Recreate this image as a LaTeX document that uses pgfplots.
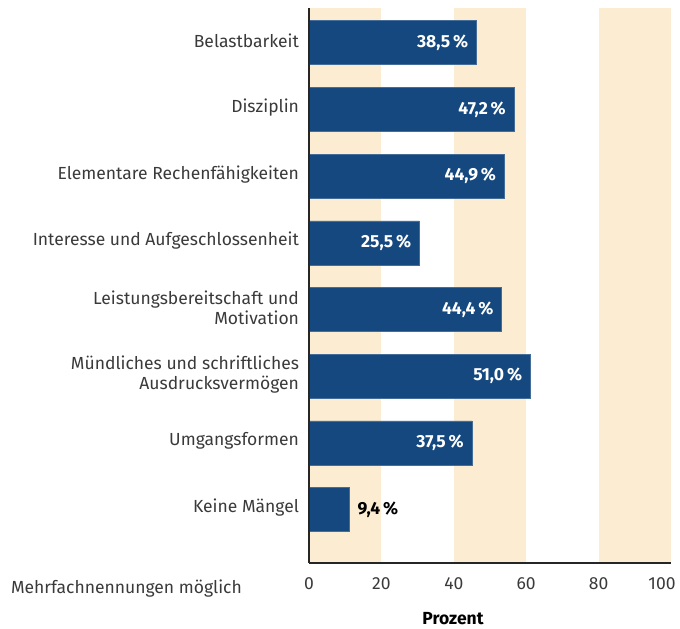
\documentclass[border=0pt]{standalone}
\usepackage{pgfplots}
\pgfplotsset{compat=1.18}
\usepackage{fontspec}
\setmainfont{Fira Sans}
\definecolor{barblue}{HTML}{15487F}
\definecolor{stripe}{HTML}{FCEDD2}
\definecolor{txt}{HTML}{3A3A3A}
\newcommand{\lblfont}{\fontsize{17.5pt}{20pt}\selectfont}
\begin{document}
\lblfont
\begin{tikzpicture}
\path[use as bounding box] (0,0) rectangle (680pt,629pt);
\begin{axis}[
  at={(309pt,66pt)}, anchor=south west,
  scale only axis, width=362pt, height=555pt,
  xmin=0, xmax=100, ymin=0.2, ymax=8.52,
  axis x line*=bottom, axis y line*=left,
  axis line style={line width=1.2pt, color=black!85, -},
  axis on top,
  xtick={0,20,40,60,80}, major tick length=0pt,
  extra x ticks={100},
  extra x tick style={xticklabel style={xshift=-9pt}},
  ytick={1,...,8},
  yticklabels={Keine Mängel, Umgangsformen, {Mündliches und schriftliches\\Ausdrucksvermögen}, {Leistungsbereitschaft und\\Motivation}, Interesse und Aufgeschlossenheit, Elementare Rechenfähigkeiten, Disziplin, Belastbarkeit},
  yticklabel style={align=right, text=txt, font=\lblfont, xshift=-4pt, yshift=2pt},
  xticklabel style={text=txt, font=\lblfont, yshift=-9pt},
  /pgf/number format/assume math mode=true,
  xbar, bar width=44pt, bar shift=0pt,
  point meta=explicit symbolic,
  clip=false,
]
\fill[stripe] (axis cs:0,0.2) rectangle (axis cs:20,8.52);
\fill[stripe] (axis cs:40,0.2) rectangle (axis cs:60,8.52);
\fill[stripe] (axis cs:80,0.2) rectangle (axis cs:100,8.52);
\addplot[fill=barblue, draw=barblue!80!white, line width=0.6pt, bar shift=0pt,
  nodes near coords, nodes near coords style={anchor=east, text=white, font=\bfseries\lblfont, xshift=-2pt}]
  coordinates {
  (46.2,8) [38,5\,\%]
  (56.6,7) [47,2\,\%]
  (53.9,6) [44,9\,\%]
  (30.5,5) [25,5\,\%]
  (53.2,4) [44,4\,\%]
  (61.1,3) [51,0\,\%]
  (45.0,2) [37,5\,\%]
  };
\addplot[fill=barblue, draw=barblue!80!white, line width=0.6pt, bar shift=0pt,
  nodes near coords, nodes near coords style={anchor=west, text=black, font=\bfseries\lblfont, xshift=2pt}]
  coordinates {
  (11.2,1) [9,4\,\%]
  };
\end{axis}
\node[anchor=west, text=txt, font=\lblfont] at (5pt,40pt) {Mehrfachnennungen möglich};
\node[text=black, font=\bfseries\lblfont] at (453pt,10pt) {Prozent};
\end{tikzpicture}
\end{document}
